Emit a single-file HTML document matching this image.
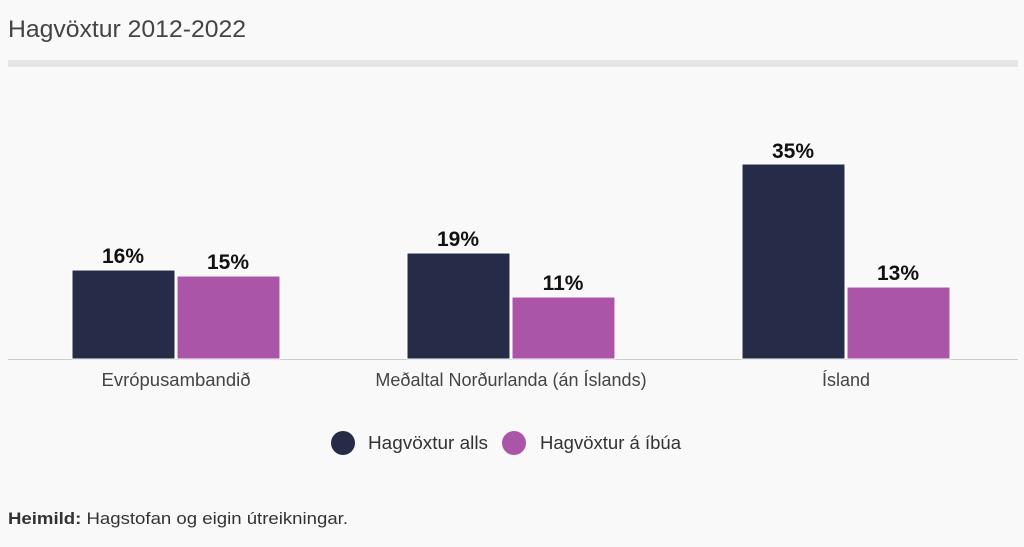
<!DOCTYPE html>
<html><head><meta charset="utf-8"><style>
body{margin:0;background:#f9f9f9;width:1024px;height:542px;overflow:hidden;font-family:"Liberation Sans",sans-serif;}
</style></head><body>
<svg width="1024" height="542" xmlns="http://www.w3.org/2000/svg" font-family="Liberation Sans, sans-serif">
<rect width="1024" height="542" fill="#f9f9f9"/>
<text x="8" y="37" font-size="24.5" fill="#444" textLength="238" lengthAdjust="spacingAndGlyphs">Hagvöxtur 2012-2022</text>
<rect x="8" y="60" width="1010" height="7" fill="#e6e6e6"/>
<line x1="8" y1="359.5" x2="1018" y2="359.5" stroke="#ccc" stroke-width="1"/>
<g stroke="#fff" stroke-width="1">
<rect x="72" y="270" width="103" height="89" fill="#262c48"/>
<rect x="177" y="276" width="103" height="83" fill="#ab55a8"/>
<rect x="407" y="253" width="103" height="106" fill="#262c48"/>
<rect x="512" y="297" width="103" height="62" fill="#ab55a8"/>
<rect x="742" y="164" width="103" height="195" fill="#262c48"/>
<rect x="847" y="287" width="103" height="72" fill="#ab55a8"/>
</g>
<g font-size="21" fill="#111" text-anchor="middle" font-weight="bold">
<text x="123" y="263">16%</text>
<text x="228" y="269">15%</text>
<text x="458" y="246">19%</text>
<text x="563" y="290">11%</text>
<text x="793" y="158">35%</text>
<text x="898" y="280">13%</text>
</g>
<g font-size="18" fill="#444" text-anchor="middle">
<text x="176" y="386" textLength="149" lengthAdjust="spacingAndGlyphs">Evrópusambandið</text>
<text x="511" y="386">Meðaltal Norðurlanda (án Íslands)</text>
<text x="846" y="386">Ísland</text>
</g>
<circle cx="343" cy="443" r="12" fill="#262c48"/>
<text x="368" y="449" font-size="18" fill="#333" textLength="120" lengthAdjust="spacingAndGlyphs">Hagvöxtur alls</text>
<circle cx="514" cy="443" r="12" fill="#ab55a8"/>
<text x="540" y="449" font-size="18" fill="#333" textLength="141" lengthAdjust="spacingAndGlyphs">Hagvöxtur á íbúa</text>
<text x="8" y="524" font-size="17" fill="#333" textLength="340" lengthAdjust="spacingAndGlyphs"><tspan font-weight="bold">Heimild:</tspan> Hagstofan og eigin útreikningar.</text>
</svg>
</body></html>
